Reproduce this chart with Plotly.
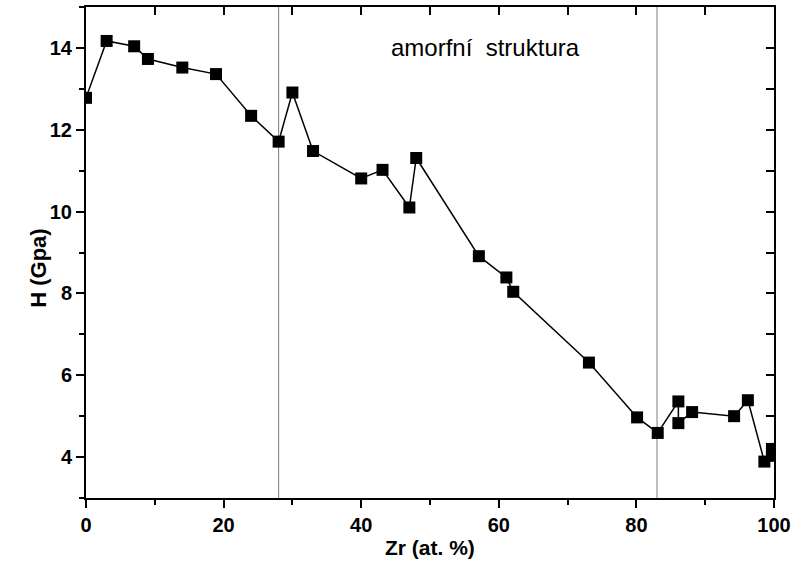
import plotly.graph_objects as go

# Hardness vs. Zr content
zr = [0, 3, 7, 9, 14, 18.9, 24, 28, 30, 33, 40, 43.1, 47, 48, 57.1, 61.1, 62.1,
      73.1, 80.1, 83.1, 86.1, 86.1, 88.1, 94.2, 96.2, 98.6, 99.7, 99.7]
hardness = [12.78, 14.17, 14.04, 13.73, 13.52, 13.36, 12.34, 11.71, 12.91, 11.48,
            10.81, 11.02, 10.10, 11.31, 8.91, 8.39, 8.04, 6.31, 4.97, 4.59,
            5.36, 4.83, 5.10, 5.00, 5.39, 3.89, 4.03, 4.20]

# Boundaries of the amorphous region
amorphous_bounds = [28, 83]
region_label = "amorfní  struktura"
x_title = "Zr (at. %)"
y_title = "H (Gpa)"

X_RANGE = [0, 100]
Y_RANGE = [3, 15]
FONT = "Liberation Sans, Arial, sans-serif"

fig = go.Figure()

fig.add_trace(go.Scatter(
    x=zr, y=hardness, mode="lines+markers",
    line=dict(color="black", width=1.5),
    marker=dict(symbol="square", size=12, color="black",
                line=dict(color="black", width=0)),
    showlegend=False, hoverinfo="x+y",
))

# invisible trace so the mirrored top/right axes get drawn
fig.add_trace(go.Scatter(x=[None], y=[None], xaxis="x2", yaxis="y2",
                         showlegend=False, hoverinfo="skip"))

for xb in amorphous_bounds:
    fig.add_shape(type="line", xref="x", yref="y", x0=xb, x1=xb,
                  y0=Y_RANGE[0], y1=Y_RANGE[1],
                  line=dict(color="#7a7a7a", width=1), layer="below")

fig.add_annotation(x=58, y=14.0, xref="x", yref="y", text=region_label,
                   showarrow=False, font=dict(family=FONT, size=24, color="black"))

fig.add_annotation(x=0.5, y=-0.128, xref="paper", yref="paper",
                   text=f"<b>{x_title}</b>", showarrow=False,
                   font=dict(family=FONT, size=21, color="black"))
fig.add_annotation(x=-0.09, y=0.468, xref="paper", yref="paper",
                   text=f"<b>{y_title}</b>", showarrow=False, textangle=-90,
                   font=dict(family=FONT, size=22, color="black"))

axis_common = dict(showgrid=False, zeroline=False, showline=True,
                   linecolor="black", linewidth=2, tickcolor="black",
                   tickwidth=1.5)

fig.update_layout(
    width=798, height=577,
    margin=dict(l=86, r=21, t=7, b=79),
    paper_bgcolor="white", plot_bgcolor="white",
    font=dict(family=FONT, color="black"),
    xaxis=dict(range=X_RANGE, tick0=0, dtick=20, ticks="outside", ticklen=8,
               tickfont=dict(family=FONT, size=20, color="black", weight="bold"),
               minor=dict(dtick=10, ticks="outside", ticklen=5,
                          tickcolor="black", tickwidth=1.5),
               **axis_common),
    yaxis=dict(range=Y_RANGE, tickvals=[4, 6, 8, 10, 12, 14], ticks="outside",
               ticklen=8,
               tickfont=dict(family=FONT, size=20, color="black", weight="bold"),
               minor=dict(dtick=1, tick0=3, ticks="outside", ticklen=5,
                          tickcolor="black", tickwidth=1.5),
               **axis_common),
    xaxis2=dict(range=X_RANGE, overlaying="x", side="top", anchor="y2",
                tick0=0, dtick=10, ticks="inside", ticklen=8,
                showticklabels=False, **axis_common),
    yaxis2=dict(range=Y_RANGE, overlaying="y", side="right", anchor="x2",
                tick0=3, dtick=1, ticks="inside", ticklen=8,
                showticklabels=False, **axis_common),
)

fig.write_html("out.html")
